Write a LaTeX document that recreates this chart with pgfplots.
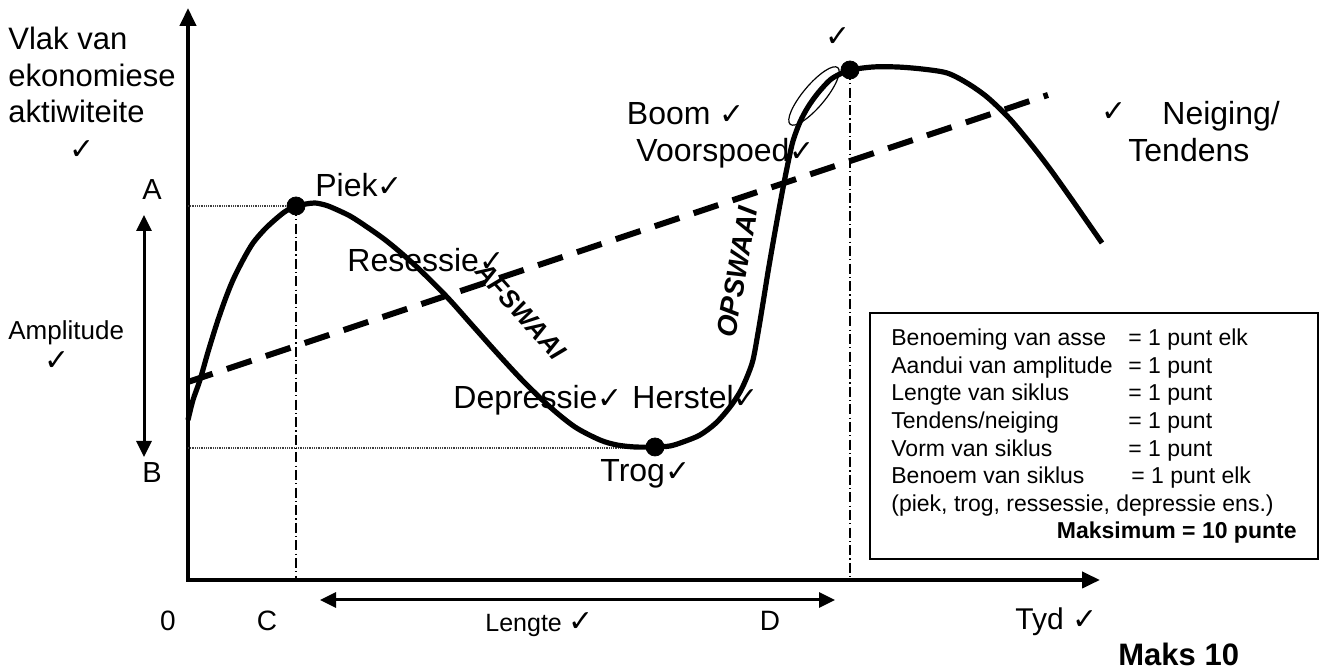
\documentclass[border=0pt]{standalone}
\usepackage{pgfplots}
\pgfplotsset{compat=1.18}
\usetikzlibrary{arrows.meta}
\usepackage{fontspec}
\setmainfont{Liberation Sans}
\newfontfamily\dv{DejaVu Sans}
\newcommand\ck{{\dv\fontsize{15}{15}\selectfont ✓}}
\newcommand\fs[1]{\fontsize{#1}{#1}\selectfont}

\begin{document}
\begin{tikzpicture}
\begin{axis}[x=0.5pt, y=0.5pt, xmin=0, xmax=1341, ymin=0, ymax=672,
  hide axis, clip=false]
\coordinate (LL) at (axis cs:0,0);
\coordinate (UR) at (axis cs:1341,672);

% axes
\draw[line width=2pt, -{Triangle[length=9pt,width=8pt]}] (axis cs:188,90) -- (axis cs:188,664);
\draw[line width=2pt, -{Triangle[length=9pt,width=8pt]}] (axis cs:187,92) -- (axis cs:1100,92);

% guide lines
\draw[line width=0.6pt, black!75, dash pattern=on 0.5pt off 0.4pt] (axis cs:188,466) -- (axis cs:296,466);
\draw[line width=0.6pt, black!75, dash pattern=on 0.5pt off 0.4pt] (axis cs:188,224) -- (axis cs:655,224);
\draw[line width=0.7pt, dash pattern=on 5pt off 1.6pt on 0.6pt off 1.6pt] (axis cs:296,466) -- (axis cs:296,92);
\draw[line width=0.7pt, dash pattern=on 5pt off 1.6pt on 0.6pt off 1.6pt] (axis cs:850,602) -- (axis cs:850,92);

% trend
\addplot[line width=3pt, dash pattern=on 13pt off 7.5pt] coordinates {(188,290) (1048,577)};

% cycle
\addplot[smooth, line width=2.6pt] coordinates {
(188,252) (193,272) (200,292) (208,320) (217,349) (225,372) (233,392)
(243,412) (253,429) (265,443) (277,454) (286,461) (296,466) (306,468)
(315,469) (325,467) (333,464) (350,456) (367,445) (384,433) (400,420)
(420,402) (447,375) (472,347) (497,319) (523,291) (550,265) (575,245)
(600,232) (617,227) (635,225) (655,225) (670,226) (683,230) (700,237)
(716,249) (730,265) (740,280) (747,295) (753,312) (758,339) (763,369)
(768,400) (773,429) (778,457) (783,484) (788,509) (793,531) (800,550)
(808,565) (818,579) (830,592) (840,598) (850,602) (873,605) (897,605)
(922,603) (947,599) (967,589) (987,575) (1009,554) (1030,529) (1050,503)
(1070,475) (1086,452) (1102,429)};

\addplot[only marks, mark=*, mark size=4.5pt] coordinates {(296,466) (655,225) (850,602)};

% ellipse
\draw[line width=0.6pt, rotate around={50:(axis cs:814,576)}] (axis cs:814,576) ellipse [x radius=18.5pt, y radius=5.5pt];

% amplitude & length arrows
\draw[line width=1.5pt, {Triangle[length=8pt,width=7.5pt]}-{Triangle[length=8pt,width=7.5pt]}] (axis cs:144,457) -- (axis cs:144,215);
\draw[line width=1.5pt, {Triangle[length=8pt,width=7.5pt]}-{Triangle[length=8pt,width=7.5pt]}] (axis cs:320,72) -- (axis cs:835,72);

% box
\draw[line width=0.8pt] (axis cs:870,359) rectangle (axis cs:1318,113);

% labels
\node[anchor=base west, font=\fs{15.5}, inner sep=0] at (axis cs:8,622) {Vlak van};
\node[anchor=base west, font=\fs{15.5}, inner sep=0] at (axis cs:8,585) {ekonomiese};
\node[anchor=base west, font=\fs{15.5}, inner sep=0] at (axis cs:8,549) {aktiwiteite};
\node[inner sep=0] at (axis cs:82,522) {\ck};
\node[font=\fs{14.5}, inner sep=0] at (axis cs:152,482) {A};
\node[font=\fs{14.5}, inner sep=0] at (axis cs:152,199) {B};
\node[anchor=base west, font=\fs{13}, inner sep=0] at (axis cs:8,332) {Amplitude};
\node[inner sep=0] at (axis cs:57,311) {\ck};
\node[anchor=base west, font=\fs{16}, inner sep=0] at (axis cs:315,475) {Piek\ck};
\node[anchor=base west, font=\fs{16}, inner sep=0] at (axis cs:347,400) {Resessie\ck};
\node[anchor=base west, font=\fs{16}, inner sep=0] at (axis cs:453,263) {Depressie\ck};
\node[anchor=base west, font=\fs{16}, inner sep=0] at (axis cs:632,263) {Herstel\ck};
\node[anchor=base west, font=\fs{16}, inner sep=0] at (axis cs:600,190) {Trog\ck};
\node[anchor=base east, font=\fs{16}, inner sep=0] at (axis cs:745,547) {Boom \ck};
\node[anchor=base east, font=\fs{16}, inner sep=0] at (axis cs:815,510) {Voorspoed\ck};
\node[inner sep=0] at (axis cs:838,635) {\ck};
\node[inner sep=0] at (axis cs:1114,560) {\ck};
\node[anchor=base west, font=\fs{16}, inner sep=0] at (axis cs:1162,547) {Neiging/};
\node[anchor=base west, font=\fs{16}, inner sep=0] at (axis cs:1128,510) {Tendens};
\node[rotate=-48, font=\bfseries\itshape\fs{13}, inner sep=0] at (axis cs:521,361) {AFSWAAI};
\node[rotate=80, font=\bfseries\itshape\fs{14}, inner sep=0] at (axis cs:737,400) {OPSWAAI};

% bottom labels
\node[anchor=base, font=\fs{14}, inner sep=0] at (axis cs:168,41) {0};
\node[anchor=base, font=\fs{14}, inner sep=0] at (axis cs:267,41) {C};
\node[anchor=base, font=\fs{14}, inner sep=0] at (axis cs:770,41) {D};
\node[anchor=base west, font=\fs{12.5}, inner sep=0] at (axis cs:485,40) {Lengte \ck};
\node[anchor=base west, font=\fs{15}, inner sep=0] at (axis cs:1015,42) {Tyd \ck};
\node[anchor=base west, font=\bfseries\fs{15.5}, inner sep=0] at (axis cs:1118,6) {Maks 10};

% box text
\node[anchor=base west, font=\fs{11.5}, inner sep=0] at (axis cs:891,326) {Benoeming van asse};
\node[anchor=base west, font=\fs{11.5}, inner sep=0] at (axis cs:1128,326) {= 1 punt elk};
\node[anchor=base west, font=\fs{11.5}, inner sep=0] at (axis cs:891,298) {Aandui van amplitude};
\node[anchor=base west, font=\fs{11.5}, inner sep=0] at (axis cs:1128,298) {= 1 punt};
\node[anchor=base west, font=\fs{11.5}, inner sep=0] at (axis cs:891,271) {Lengte van siklus};
\node[anchor=base west, font=\fs{11.5}, inner sep=0] at (axis cs:1128,271) {= 1 punt};
\node[anchor=base west, font=\fs{11.5}, inner sep=0] at (axis cs:891,243) {Tendens/neiging};
\node[anchor=base west, font=\fs{11.5}, inner sep=0] at (axis cs:1128,243) {= 1 punt};
\node[anchor=base west, font=\fs{11.5}, inner sep=0] at (axis cs:891,215) {Vorm van siklus};
\node[anchor=base west, font=\fs{11.5}, inner sep=0] at (axis cs:1128,215) {= 1 punt};
\node[anchor=base west, font=\fs{11.5}, inner sep=0] at (axis cs:891,188) {Benoem van siklus};
\node[anchor=base west, font=\fs{11.5}, inner sep=0] at (axis cs:1131,188) {= 1 punt elk};
\node[anchor=base west, font=\fs{11.5}, inner sep=0] at (axis cs:891,160) {(piek, trog, ressessie, depressie ens.)};
\node[anchor=base east, font=\bfseries\fs{11.5}, inner sep=0] at (axis cs:1297,133) {Maksimum = 10 punte};
\end{axis}
\pgfresetboundingbox
\useasboundingbox (LL) rectangle (UR);
\end{tikzpicture}
\end{document}
